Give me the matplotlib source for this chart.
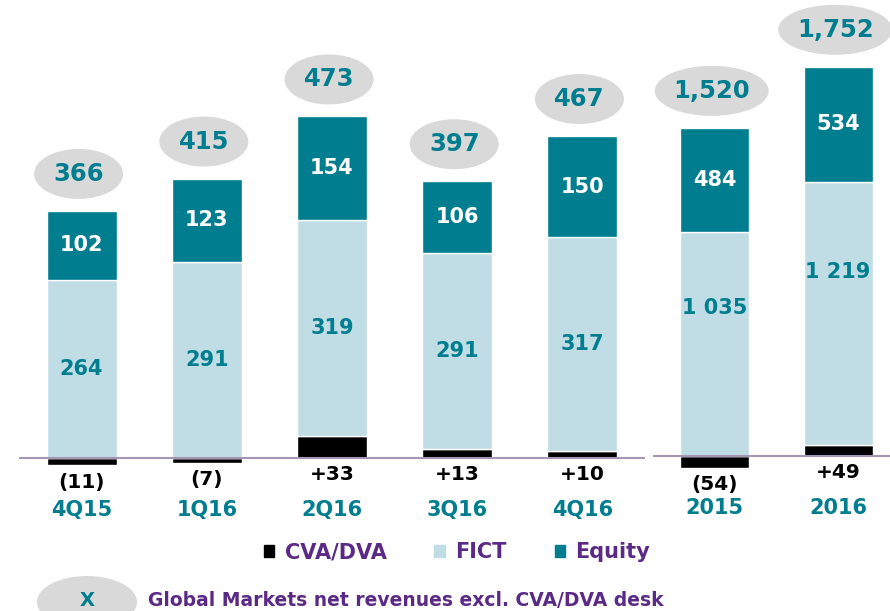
import matplotlib.pyplot as plt
from matplotlib.patches import Ellipse, Patch
from matplotlib.transforms import ScaledTranslation

# quarterly data
q_labels = ['4Q15', '1Q16', '2Q16', '3Q16', '4Q16']
q_cva = [-11, -7, 33, 13, 10]
q_fict = [264, 291, 319, 291, 317]
q_equity = [102, 123, 154, 106, 150]
q_totals = ['366', '415', '473', '397', '467']
q_cva_txt = ['(11)', '(7)', '+33', '+13', '+10']

# yearly data
y_labels = ['2015', '2016']
y_cva = [-54, 49]
y_fict = [1035, 1219]
y_equity = [484, 534]
y_totals = ['1,520', '1,752']
y_cva_txt = ['(54)', '+49']
y_fict_txt = ['1 035', '1 219']

BLACK = '#000000'
LIGHT = '#c0dde6'
TEAL = '#007d8f'
GREY = '#d9d9d9'
PURPLE = '#5b2a86'
BASE = '#a596b4'

fig = plt.figure(figsize=(8.9, 6.11), dpi=100)
ax_q = fig.add_axes([19 / 890, 0, 626 / 890, 1])
ax_y = fig.add_axes([653 / 890, 0, 237 / 890, 1])
ax_q.set_xlim(-0.5, 4.5)
ax_q.set_ylim(-226.7, 678.5)
ax_y.set_xlim(-0.5, 1.42)
ax_y.set_ylim(-717.6, 2111)


def draw(ax, labels, cva, fict, equity, totals, cva_txt, fict_txt, ell_w, fict_pos):
    x = list(range(len(labels)))
    pos = [max(c, 0) for c in cva]
    top = [p + f + e for p, f, e in zip(pos, fict, equity)]
    ax.bar(x, cva, width=0.56, color=BLACK, edgecolor='white', linewidth=1, zorder=2)
    ax.bar(x, fict, bottom=pos, width=0.56, color=LIGHT, edgecolor='white', linewidth=1, zorder=2)
    ax.bar(x, equity, bottom=[p + f for p, f in zip(pos, fict)], width=0.56,
           color=TEAL, edgecolor='white', linewidth=1, zorder=2)
    ax.axhline(0, color=BASE, lw=1.5, zorder=3)
    for i in x:
        ax.text(i, pos[i] + fict[i] * fict_pos, fict_txt[i], ha='center', va='center',
                color=TEAL, fontsize=15, fontweight='bold')
        ax.text(i, pos[i] + fict[i] + equity[i] / 2, str(equity[i]), ha='center', va='center',
                color='white', fontsize=15, fontweight='bold')
        # grey bubble with total
        tr = fig.dpi_scale_trans + ScaledTranslation(i, top[i], ax.transData)
        ax.add_patch(Ellipse((-0.03, 0.37), ell_w, 0.50, transform=tr,
                             facecolor=GREY, edgecolor='none', clip_on=False))
        ax.annotate(totals[i], (i, top[i]), xytext=(-3, 37), textcoords='offset pixels',
                    ha='center', va='center', color=TEAL, fontsize=17.5, fontweight='bold')
        ax.annotate(cva_txt[i], (i, min(cva[i], 0)), xytext=(0, -17), textcoords='offset pixels',
                    ha='center', va='center', color=BLACK, fontsize=14.5, fontweight='bold')
        ax.annotate(labels[i], (i, 0), xytext=(0, -52), textcoords='offset pixels',
                    ha='center', va='center', color=TEAL, fontsize=15, fontweight='bold')
    ax.axis('off')


draw(ax_q, q_labels, q_cva, q_fict, q_equity, q_totals, q_cva_txt,
     [str(v) for v in q_fict], 0.89, 0.5)
draw(ax_y, y_labels, y_cva, y_fict, y_equity, y_totals, y_cva_txt, y_fict_txt, 1.14, 0.66)

handles = [Patch(color=BLACK), Patch(color=LIGHT), Patch(color=TEAL)]
leg = fig.legend(handles, ['CVA/DVA', 'FICT', 'Equity'], loc='center',
                 bbox_to_anchor=(457 / 890, 1 - 552 / 611), ncol=3, frameon=False,
                 handlelength=0.5, handleheight=0.5, handletextpad=0.5, columnspacing=2.3,
                 prop=dict(weight='bold', size=15))
for t in leg.get_texts():
    t.set_color(PURPLE)

fig.patches.append(Ellipse((87 / 890, 1 - 602 / 611), 100 / 890, 52 / 611,
                           transform=fig.transFigure, facecolor=GREY, edgecolor='none'))
fig.text(87 / 890, 1 - 600 / 611, 'X', ha='center', va='center', color=TEAL,
         fontsize=14, fontweight='bold')
fig.text(148 / 890, 1 - 606 / 611, 'Global Markets net revenues excl. CVA/DVA desk',
         ha='left', va='baseline', color=PURPLE, fontsize=13.5, fontweight='bold')

fig.savefig('out.png', dpi=100)
